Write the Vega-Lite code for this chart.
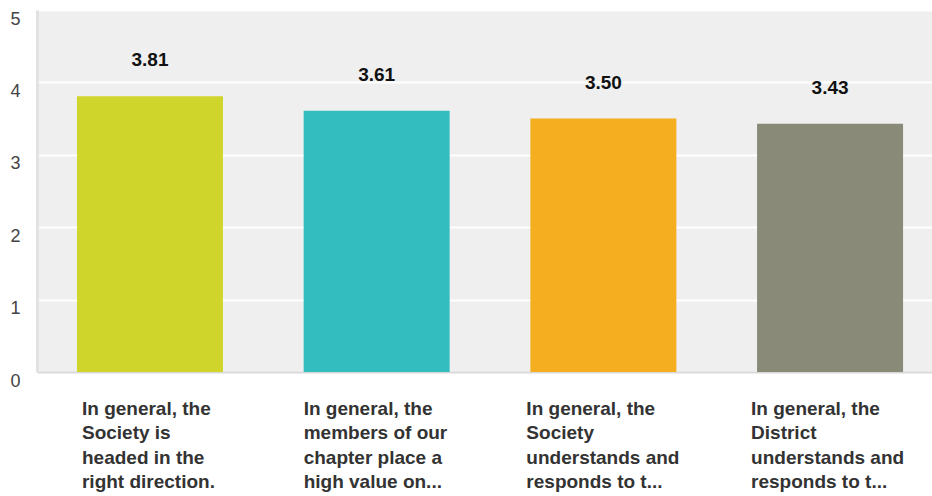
{
  "$schema": "https://vega.github.io/schema/vega-lite/v6.json",
  "autosize": {"type": "none"},
  "padding": {"left": 37, "top": 10, "right": 0, "bottom": 124},
  "width": 895,
  "height": 362,
  "background": "#ffffff",
  "config": {
    "view": {"fill": "#efefef", "stroke": null},
    "font": "Liberation Sans"
  },
  "data": {
    "values": [
      {"question": "In general, the|Society is|headed in the|right direction.", "score": 3.81, "color": "#d0d52b"},
      {"question": "In general, the|members of our|chapter place a|high value on...", "score": 3.61, "color": "#33bdbe"},
      {"question": "In general, the|Society|understands and|responds to t...", "score": 3.50, "color": "#f5ae1f"},
      {"question": "In general, the|District|understands and|responds to t...", "score": 3.43, "color": "#8a8a78"}
    ]
  },
  "encoding": {
    "x": {
      "field": "question",
      "type": "nominal",
      "sort": null,
      "scale": {"paddingInner": 0.356, "paddingOuter": 0.152, "align": 0.58},
      "axis": {
        "title": null,
        "labelAngle": 0,
        "labelExpr": "split(datum.label, '|')",
        "labelAlign": "left",
        "labelOffset": {
          "condition": [
            {"test": "indexof(datum.value, 'headed') >= 0", "value": -68},
            {"test": "indexof(datum.value, 'members') >= 0", "value": -73},
            {"test": "indexof(datum.value, 'District') >= 0", "value": -79}
          ],
          "value": -77
        },
        "labelBaseline": "top",
        "labelPadding": 27,
        "labelLineHeight": 24.5,
        "labelFont": "Liberation Sans",
        "labelFontSize": 19,
        "labelFontWeight": "bold",
        "labelColor": "#333333",
        "labelLimit": 300,
        "labelOverlap": false,
        "ticks": false,
        "domainColor": "#d9d9d9",
        "domainWidth": 2,
        "grid": false
      }
    },
    "y": {
      "field": "score",
      "type": "quantitative",
      "scale": {"domain": [0, 5], "nice": false},
      "axis": {
        "title": null,
        "values": [0, 1, 2, 3, 4, 5],
        "ticks": false,
        "labelFontSize": 18,
        "labelColor": "#444444",
        "labelPadding": 17,
        "labelOffset": 9,
        "labelBaseline": "middle",
        "labelFlush": false,
        "labelOverlap": false,
        "domainColor": "#e2e2e2",
        "domainWidth": 3,
        "grid": true,
        "gridColor": "#ffffff",
        "gridWidth": 2
      }
    }
  },
  "layer": [
    {
      "mark": {"type": "bar"},
      "encoding": {
        "color": {"field": "color", "type": "nominal", "scale": null}
      }
    },
    {
      "mark": {"type": "text", "dy": -36, "fontSize": 19, "fontWeight": "bold", "color": "#111111", "font": "Liberation Sans"},
      "encoding": {
        "text": {"field": "score", "type": "quantitative", "format": ".2f"}
      }
    }
  ]
}
